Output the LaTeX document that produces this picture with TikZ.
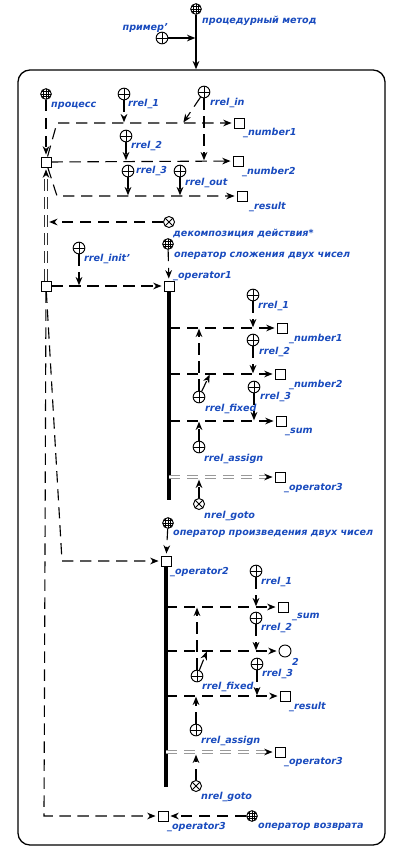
\documentclass[tikz,border=0pt]{standalone}
\usepackage{fontspec}
\setmainfont{DejaVu Sans}
\usetikzlibrary{arrows.meta,calc,positioning}
\definecolor{scblue}{RGB}{25,75,190}
\newcommand{\lblfont}{\fontsize{8.2}{9.5}\selectfont\bfseries\itshape}

\begin{document}
\begin{tikzpicture}[
  x=0.03cm, y=-0.03cm,
  elem/.style={draw, fill=white, inner sep=0pt, line width=0.8pt},
  cls/.style={elem, circle, minimum size=0.32cm, path picture={
      \foreach \g in {-2.4,0,2.4}{
        \draw[line width=0.35pt, shift={(path picture bounding box.center)}] (\g,-6) -- (\g,6) (-6,\g) -- (6,\g);}}},
  role/.style={elem, circle, minimum size=0.35cm, path picture={
      \draw[line width=0.8pt, shift={(path picture bounding box.center)}] (0,-7) -- (0,7) (-7,0) -- (7,0);}},
  nrole/.style={elem, circle, minimum size=0.33cm, path picture={
      \draw[line width=0.8pt, shift={(path picture bounding box.center)}] (-4,-4) -- (4,4) (-4,4) -- (4,-4);}},
  var/.style={elem, rectangle, minimum size=0.3cm},
  cnst/.style={elem, circle, minimum size=0.36cm},
  lbl/.style={font=\lblfont, text=scblue, anchor=west, inner sep=0pt},
  carc/.style={-{Stealth[length=2.5mm, width=2mm]}, line width=0.95pt},
  varc/.style={carc, dash pattern=on 0.34cm off 0.2cm, shorten >=0.06cm},
  rarc/.style={varc, shorten >=0.02cm},
  pairarc/.style={varc, double=white, double distance=1.3pt, line width=0.9pt, draw=gray!80,
    -{Stealth[length=2.5mm, width=2mm, color=black]}},
  bus/.style={line width=3.4pt}
]
\useasboundingbox (0,0) rectangle (403,857);

% outside
\node[draw, line width=1.1pt, rounded corners=0.36cm, minimum width=11.01cm, minimum height=23.25cm] (proc) at (201.5,457.5) {};
\node[cls] (pm) at (196,9) {};
\node[lbl] (pm-l) at (202,21) {процедурный метод};
\node[role] (ex) at (162,38) {};
\node[lbl, anchor=east] (ex-l) at (168,28) {пример'};
\draw[carc] (pm) -- (pm |- proc.north);
\draw[carc, shorten >=0.02cm] (ex) -- (pm |- ex);

% process and its arguments
\node[cls] (pr) at (46,94) {};
\node[lbl] (pr-l) at (51,106) {процесс};
\node[var] (act) at (46,162) {};
\node[var] (n1) at (239,123) {};
\node[lbl] (n1-l) at (243,133) {\_number1};
\node[var] (n2) at (238,161) {};
\node[lbl] (n2-l) at (242,172) {\_number2};
\node[var] (res) at (242,196) {};
\node[lbl] (res-l) at (249,207) {\_result};
\draw[varc] (pr) -- (act);
\draw[varc] (act) -- (57,123) -- (n1);
\draw[varc] (act) -- (n2);
\draw[varc] (act) -- (57,196) -- (res);

\node[role] (r1) at (124,94) {};
\node[lbl] (r1-l) at (128,104) {rrel\_1};
\node[role] (rin) at (204,92) {};
\node[lbl] (rin-l) at (210,103) {rrel\_in};
\node[role] (r2) at (126,136) {};
\node[lbl] (r2-l) at (131,146) {rrel\_2};
\node[role] (r3) at (128,171) {};
\node[lbl] (r3-l) at (136,171) {rrel\_3};
\node[role] (rout) at (180,171) {};
\node[lbl] (rout-l) at (185,183) {rrel\_out};
\draw[rarc] (r1) -- (r1 |- n1);
\draw[rarc] (rin) -- ($(n1 -| rin)+(-21,0)$);
\draw[rarc] (rin) -- (rin |- n2);
\draw[rarc] (r2) -- (r2 |- n2);
\draw[rarc] (r3) -- (r3 |- res);
\draw[rarc] (rout) -- (rout |- res);

% decomposition
\node[nrole] (dec) at (169,222) {};
\node[lbl] (dec-l) at (173,233) {декомпозиция действия*};
\node[var] (dset) at (46,286) {};
\draw[pairarc, draw=black!80] (dset) -- (act);
\draw[rarc] (dec) -- ($(act |- dec)+(2.5,0)$);

\node[cls] (op1add) at (168,244) {};
\node[lbl] (op1add-l) at (174,256) {оператор сложения двух чисел};
\node[var] (op1) at (169,286) {};
\node[lbl] (op1-l) at (173,276) {\_operator1};
\node[role] (rinit) at (79,248) {};
\node[lbl] (rinit-l) at (84,259) {rrel\_init'};
\draw[varc] (op1add) -- (op1);
\draw[varc] (dset) -- (op1);
\draw[rarc] (rinit) -- (rinit |- op1);

\node[cls] (op2mul) at (168,523) {};
\node[lbl] (op2mul-l) at (173,534) {оператор произведения двух чисел};
\node[var] (op2) at (166,561) {};
\node[lbl] (op2-l) at (170,572) {\_operator2};
\draw[varc] (op2mul) -- (op2);
\draw[varc] (dset) -- (62,561) -- (op2);

\node[var] (op3) at (163,816) {};
\node[lbl] (op3-l) at (167,827) {\_operator3};
\node[cls] (ret) at (252,816) {};
\node[lbl] (ret-l) at (258,827) {оператор возврата};
\draw[varc] (ret) -- (op3);
\draw[varc] (dset) -- (44,816) -- (op3);

% operator 1
\draw[bus] (op1.south) -- ++(0,209);
\node[var] (b1n1) at (282,328) {};
\node[lbl] (b1n1-l) at (289,339) {\_number1};
\node[var] (b1n2) at (280,374) {};
\node[lbl] (b1n2-l) at (289,385) {\_number2};
\node[var] (b1sum) at (281,421) {};
\node[lbl] (b1sum-l) at (285,432) {\_sum};
\node[var] (b1op3) at (280,477) {};
\node[lbl] (b1op3-l) at (284,488) {\_operator3};
\draw[varc] (op1 |- b1n1) -- (b1n1);
\draw[varc] (op1 |- b1n2) -- (b1n2);
\draw[varc] (op1 |- b1sum) -- (b1sum);
\draw[pairarc] (op1 |- b1op3) -- (b1op3);

\node[role] (b1r1) at (253,295) {};
\node[lbl] (b1r1-l) at (258,306) {rrel\_1};
\node[role] (b1r2) at (253,340) {};
\node[lbl] (b1r2-l) at (259,352) {rrel\_2};
\node[role] (b1r3) at (254,387) {};
\node[lbl] (b1r3-l) at (260,397) {rrel\_3};
\node[role] (b1fix) at (199,397) {};
\node[lbl] (b1fix-l) at (205,409) {rrel\_fixed};
\node[role] (b1asg) at (199,447) {};
\node[lbl] (b1asg-l) at (204,459) {rrel\_assign};
\node[nrole] (b1goto) at (199,504) {};
\node[lbl] (b1goto-l) at (204,516) {nrel\_goto};
\draw[rarc] (b1r1) -- (b1r1 |- b1n1);
\draw[rarc] (b1r2) -- (b1r2 |- b1n2);
\draw[rarc] (b1r3) -- (b1r3 |- b1sum);
\draw[rarc] (b1fix) -- (b1fix |- b1n1);
\draw[rarc] (b1fix) -- ($(b1fix |- b1n2)+(11,0)$);
\draw[rarc] (b1asg) -- (b1asg |- b1sum);
\draw[rarc] (b1goto) -- ($(b1goto |- b1op3)+(0,2)$);

% operator 2
\draw[bus] (op2.south) -- ++(0,221);
\node[var] (b2sum) at (283,607) {};
\node[lbl] (b2sum-l) at (292,617) {\_sum};
\node[cnst] (b2two) at (285,651) {};
\node[lbl] (b2two-l) at (292,662) {2};
\node[var] (b2res) at (285,696) {};
\node[lbl] (b2res-l) at (289,707) {\_result};
\node[var] (b2op3) at (280,752) {};
\node[lbl] (b2op3-l) at (284,762) {\_operator3};
\draw[varc] (op2 |- b2sum) -- (b2sum);
\draw[varc] (op2 |- b2two) -- (b2two);
\draw[varc] (op2 |- b2res) -- (b2res);
\draw[pairarc] (op2 |- b2op3) -- (b2op3);

\node[role] (b2r1) at (256,571) {};
\node[lbl] (b2r1-l) at (261,582) {rrel\_1};
\node[role] (b2r2) at (256,618) {};
\node[lbl] (b2r2-l) at (261,628) {rrel\_2};
\node[role] (b2r3) at (257,664) {};
\node[lbl] (b2r3-l) at (262,674) {rrel\_3};
\node[role] (b2fix) at (197,676) {};
\node[lbl] (b2fix-l) at (202,687) {rrel\_fixed};
\node[role] (b2asg) at (196,730) {};
\node[lbl] (b2asg-l) at (201,741) {rrel\_assign};
\node[nrole] (b2goto) at (196,786) {};
\node[lbl] (b2goto-l) at (201,797) {nrel\_goto};
\draw[rarc] (b2r1) -- (b2r1 |- b2sum);
\draw[rarc] (b2r2) -- (b2r2 |- b2two);
\draw[rarc] (b2r3) -- (b2r3 |- b2res);
\draw[rarc] (b2fix) -- (b2fix |- b2sum);
\draw[rarc] (b2fix) -- ($(b2fix |- b2two)+(10,0)$);
\draw[rarc] (b2asg) -- (b2asg |- b2res);
\draw[rarc] (b2goto) -- ($(b2goto |- b2op3)+(0,2)$);
\end{tikzpicture}
\end{document}
